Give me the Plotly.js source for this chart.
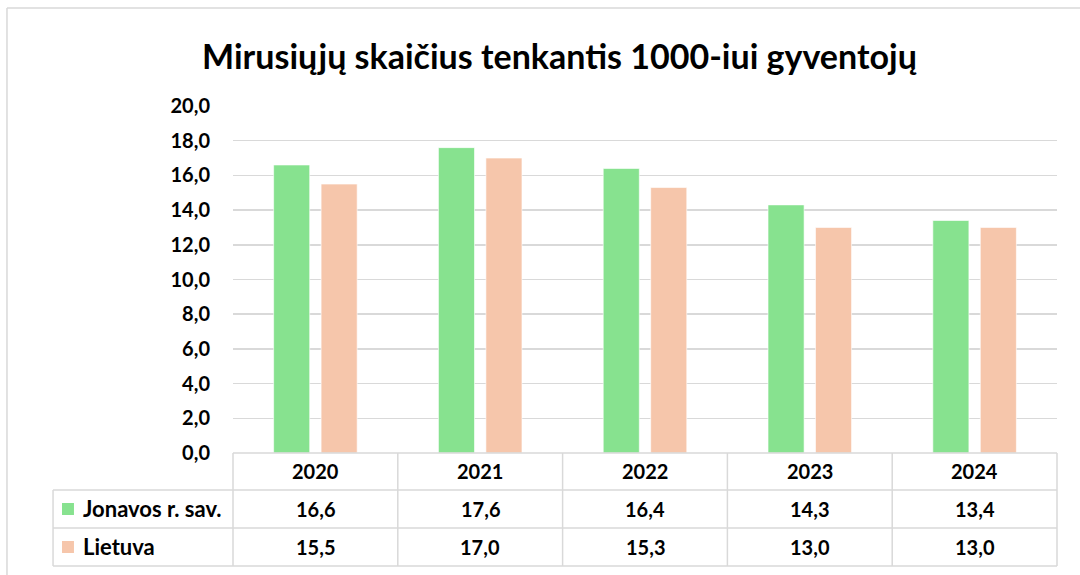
<!DOCTYPE html>
<html>
<head>
<meta charset="utf-8">
<script src="https://cdn.plot.ly/plotly-3.0.1.min.js"></script>
<style>html,body{margin:0;padding:0;background:#fff;}#chart{width:1080px;height:575px;}</style>
</head>
<body>
<div id="chart"></div>
<script>
const years = ['2020', '2021', '2022', '2023', '2024'];
const seriesNames = ['Jonavos r. sav.', 'Lietuva'];
const jonava = [16.6, 17.6, 16.4, 14.3, 13.4];
const lietuva = [15.5, 17.0, 15.3, 13.0, 13.0];
const colors = ['#87e28f', '#f6c6ab'];

const FONT = 'Lato, "Open Sans", "Noto Sans", sans-serif';
const GRID = '#d9d9d9';
const fmt = v => v.toFixed(1).replace('.', ',');

const traces = [jonava, lietuva].map((vals, i) => ({
  type: 'bar',
  name: seriesNames[i],
  x: years,
  y: vals,
  marker: {color: colors[i], line: {color: 'rgba(255,255,255,0.6)', width: 1}},
  hoverinfo: 'x+y'
}));

// table geometry (paper units)
const rowTops = [0, -0.1066, -0.2161, -0.3256]; // header top, row1 top, row2 top, bottom
const tableLeft = -0.2184;
const shapes = [];
const lineStyle = {color: GRID, width: 1.5};
shapes.push({type: 'line', xref: 'paper', yref: 'paper', x0: 0, x1: 1, y0: rowTops[0], y1: rowTops[0], line: lineStyle});
for (let k = 1; k < rowTops.length; k++) {
  shapes.push({type: 'line', xref: 'paper', yref: 'paper', x0: tableLeft, x1: 1, y0: rowTops[k], y1: rowTops[k], line: lineStyle});
}
// vertical lines at category boundaries (paper fractions of the category axis)
for (let c = 0; c <= years.length; c++) {
  const xp = c / years.length;
  shapes.push({type: 'line', xref: 'paper', yref: 'paper', x0: xp, x1: xp, y0: rowTops[0], y1: rowTops[3], line: lineStyle});
}
shapes.push({type: 'line', xref: 'paper', yref: 'paper', x0: tableLeft, x1: tableLeft, y0: rowTops[1], y1: rowTops[3], line: lineStyle});
// outer chart border (top and left)
shapes.push({type: 'line', xref: 'paper', yref: 'paper', x0: -0.2743, x1: 1.03, y0: 1.2824, y1: 1.2824, line: {color: GRID, width: 1.5}});
shapes.push({type: 'line', xref: 'paper', yref: 'paper', x0: -0.2743, x1: -0.2743, y0: 1.2824, y1: -0.36, line: {color: GRID, width: 1.5}});
// legend keys
[1, 2].forEach((r, i) => {
  const yc = (rowTops[r] + rowTops[r + 1]) / 2;
  shapes.push({type: 'rect', xref: 'paper', yref: 'paper', x0: -0.2075, x1: -0.1930, y0: yc - 0.0173, y1: yc + 0.0173, fillcolor: colors[i], line: {width: 0}});
});

const annotations = [];
const tFont = {family: FONT, size: 20, color: '#000', weight: 'bold'};
const lFont = {family: FONT, size: 22, color: '#000', weight: 'bold'};
years.forEach((yr, c) => {
  // category axis: annotation x is the category's serial index
  annotations.push({xref: 'x', yref: 'paper', x: c, y: (rowTops[0] + rowTops[1]) / 2, text: yr, showarrow: false, font: tFont, xanchor: 'center', yanchor: 'middle'});
  annotations.push({xref: 'x', yref: 'paper', x: c, y: (rowTops[1] + rowTops[2]) / 2, text: fmt(jonava[c]), showarrow: false, font: tFont, xanchor: 'center', yanchor: 'middle'});
  annotations.push({xref: 'x', yref: 'paper', x: c, y: (rowTops[2] + rowTops[3]) / 2, text: fmt(lietuva[c]), showarrow: false, font: tFont, xanchor: 'center', yanchor: 'middle'});
});
seriesNames.forEach((n, i) => {
  annotations.push({xref: 'paper', yref: 'paper', x: -0.1845, y: (rowTops[i + 1] + rowTops[i + 2]) / 2, text: n, showarrow: false, font: lFont, xanchor: 'left', yanchor: 'middle'});
});

const layout = {
  width: 1080, height: 575,
  margin: {l: 233, r: 23, t: 106, b: 122},
  paper_bgcolor: '#fff', plot_bgcolor: '#fff',
  separators: ', ',
  title: {text: 'Mirusiųjų skaičius tenkantis 1000-iui gyventojų', font: {family: FONT, size: 34, color: '#000', weight: 'bold'}, x: 0.518, xanchor: 'center', y: 0.9, yanchor: 'middle'},
  showlegend: false,
  barmode: 'group',
  bargap: 0.424,
  bargroupgap: 0.24,
  xaxis: {type: 'category', categoryorder: 'array', categoryarray: years, range: [-0.5, years.length - 0.5], showticklabels: false, showgrid: false, zeroline: false, showline: false, fixedrange: true},
  yaxis: {range: [0, 20], dtick: 2, tick0: 0, tickformat: '.1f', showgrid: true, gridcolor: GRID, gridwidth: 1.5, zeroline: false, showline: false, ticks: '', ticklabelstandoff: 22, tickfont: {family: FONT, size: 20, color: '#000', weight: 'bold'}, fixedrange: true},
  shapes: shapes,
  annotations: annotations
};

Plotly.newPlot('chart', traces, layout, {displayModeBar: false, staticPlot: true});
</script>
</body>
</html>
